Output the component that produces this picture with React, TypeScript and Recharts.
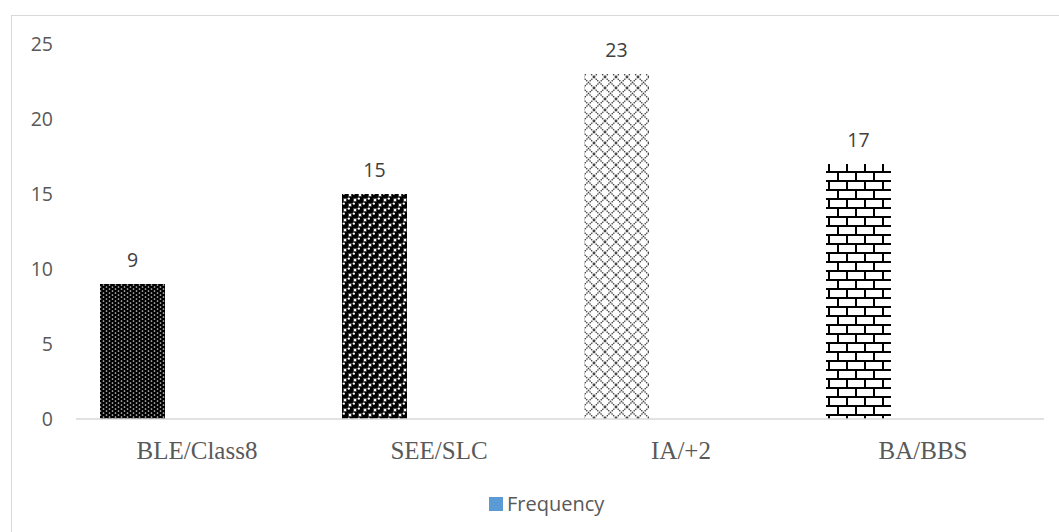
import { Bar, BarChart, Cell, LabelList, XAxis, YAxis } from 'recharts'

// education level of respondents
const categories = ['BLE/Class8', 'SEE/SLC', 'IA/+2', 'BA/BBS']
const frequency = [9, 15, 23, 17]
const yTicks = [0, 5, 10, 15, 20, 25]
const fills = ['url(#dots)', 'url(#balls)', 'url(#lattice)', 'url(#bricks)']

const data = categories.map((name, i) => ({ name, frequency: frequency[i] }))

const grey = '#595959'
const sans = 'Open Sans, sans-serif'

function Patterns() {
	return (
		<defs>
			<pattern id='dots' width='6' height='4' patternUnits='userSpaceOnUse'>
				<rect width='6' height='4' fill='#000' />
				<circle cx='1.5' cy='1' r='0.85' fill='#cfcfcf' />
				<circle cx='4.5' cy='3' r='0.85' fill='#cfcfcf' />
			</pattern>
			<pattern id='balls' width='10' height='10' patternUnits='userSpaceOnUse'>
				<rect width='10' height='10' fill='#fff' />
				<circle cx='0' cy='0' r='3.8' fill='#000' />
				<circle cx='10' cy='0' r='3.8' fill='#000' />
				<circle cx='0' cy='10' r='3.8' fill='#000' />
				<circle cx='10' cy='10' r='3.8' fill='#000' />
				<circle cx='5' cy='5' r='3.8' fill='#000' />
				<circle cx='3.8' cy='3.6' r='1.2' fill='#fff' />
				<circle cx='8.8' cy='8.6' r='1.2' fill='#fff' />
			</pattern>
			<pattern id='lattice' width='11' height='11' patternUnits='userSpaceOnUse'>
				<rect width='11' height='11' fill='#fff' />
				<path
					d='M0,0 L11,11 M11,0 L0,11'
					stroke='#444'
					strokeWidth='1.3'
					strokeDasharray='1.5 0.8'
				/>
			</pattern>
			<pattern id='bricks' width='18' height='18' patternUnits='userSpaceOnUse'>
				<rect width='18' height='18' fill='#fff' />
				<path
					d='M0,1 H18 M0,10 H18 M1,1 V10 M10,10 V18'
					stroke='#000'
					strokeWidth='2'
				/>
			</pattern>
		</defs>
	)
}

export default function App() {
	return (
		<div
			style={{
				position: 'absolute',
				left: 0,
				top: 0,
				width: 1059,
				height: 532,
				overflow: 'hidden',
				background: '#fff'
			}}
		>
			<div
				style={{
					position: 'absolute',
					left: 11,
					top: 15,
					width: 1100,
					height: 600,
					border: '1.5px solid #d9d9d9'
				}}
			/>
			<div style={{ position: 'absolute', left: 0, top: 0 }}>
				<BarChart
					width={1059}
					height={532}
					data={data}
					margin={{ top: 44, right: 15, bottom: 83, left: 0 }}
					barCategoryGap={24}
					barGap={0}
				>
					<Patterns />
					<XAxis
						dataKey='name'
						height={30}
						axisLine={{ stroke: '#d9d9d9', strokeWidth: 1.5 }}
						tickLine={false}
						tickSize={0}
						tickMargin={22}
						tick={{
							fill: grey,
							fontFamily: 'Liberation Serif, serif',
							fontSize: 25
						}}
					/>
					<YAxis
						width={76}
						domain={[0, 25]}
						ticks={yTicks}
						axisLine={false}
						tickLine={false}
						tickSize={0}
						tickMargin={23}
						tick={{ fill: grey, fontFamily: sans, fontSize: 19.5 }}
					/>
					<Bar
						dataKey='frequency'
						name='Frequency'
						fill='#5B9BD5'
						isAnimationActive={false}
					>
						{data.map((d, i) => (
							<Cell key={d.name} fill={fills[i]} />
						))}
						<LabelList
							dataKey='frequency'
							position='top'
							offset={17}
							style={{ fill: '#404040', fontFamily: sans, fontSize: 19.5 }}
						/>
					</Bar>
					{/* two empty series keep the bars in the left slot of each group */}
					<Bar dataKey='blank1' legendType='none' isAnimationActive={false} />
					<Bar dataKey='blank2' legendType='none' isAnimationActive={false} />
				</BarChart>
			</div>
			<div
				style={{
					position: 'absolute',
					left: 489,
					top: 490,
					display: 'flex',
					alignItems: 'center',
					fontFamily: sans,
					fontSize: 20,
					color: grey
				}}
			>
				<span
					style={{
						width: 14,
						height: 14,
						background: '#5B9BD5',
						marginRight: 4
					}}
				/>
				Frequency
			</div>
		</div>
	)
}
